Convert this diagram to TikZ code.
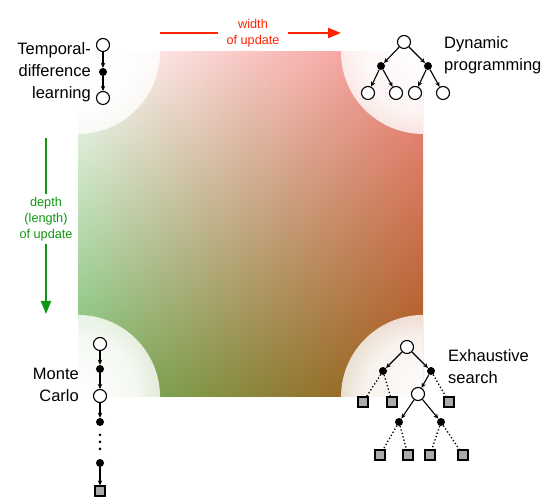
\documentclass[tikz,border=0pt]{standalone}
\usepackage{fontspec}
\setmainfont{Liberation Sans}
\usetikzlibrary{arrows.meta,fadings,shadings}

\definecolor{widthred}{RGB}{255,34,0}
\definecolor{depthgreen}{RGB}{16,150,16}
\definecolor{cornerTR}{RGB}{244,140,136}
\definecolor{cornerBL}{RGB}{112,184,98}
\definecolor{cornerBR}{RGB}{164,84,20}
\definecolor{termgray}{RGB}{170,170,170}

\pgfdeclareradialshading{cornershade}{\pgfpointorigin}{color(0bp)=(white); color(18bp)=(white!92!black); color(50bp)=(white!30!black)}
\pgfdeclarefading{cornerfade}{\pgfuseshading{cornershade}}

\tikzset{
  stnode/.style={circle, draw, fill=white, line width=1.1pt, minimum size=13pt, inner sep=0pt},
  actnode/.style={circle, fill=black, minimum size=8pt, inner sep=0pt},
  termnode/.style={rectangle, draw, fill=termgray, line width=1.1pt, minimum size=10pt, inner sep=0pt},
  dotnode/.style={circle, fill=black, minimum size=3pt, inner sep=0pt},
  backup/.style={-{Stealth[length=5pt,width=4.5pt]}, line width=1.1pt},
  sample/.style={line width=1.3pt, dash pattern=on 1.3pt off 2.2pt},
  lbl/.style={inner sep=0pt, font=\fontsize{16.5}{22}\selectfont},
  axislbl/.style={inner xsep=8pt, inner ysep=3pt, align=center, font=\fontsize{12.7}{16}\selectfont},
}

\begin{document}
\begin{tikzpicture}[x=1pt,y=1pt]
\useasboundingbox (0,0) rectangle (551,502);

% background square
\shade[upper left=white, upper right=cornerTR, lower left=cornerBL, lower right=cornerBR] (78,105) rectangle (423,450);
\begin{scope}
  \clip (78,105) rectangle (423,450);
  \foreach \cx/\cy in {78/450, 423/450, 78/105, 423/105}
    \fill[white, path fading=cornerfade] (\cx,\cy) circle (82);
\end{scope}

% axes
\node[axislbl, text=widthred] (widthlbl) at (253,469) {width\\of update};
\coordinate (wstart) at (160,469);
\coordinate (wend) at (341,469);
\draw[widthred, line width=2pt] (wstart) -- (widthlbl);
\draw[widthred, line width=2pt, -{Triangle[length=13pt,width=10pt]}] (widthlbl) -- (wend);

\node[axislbl, text=depthgreen] (depthlbl) at (46,283) {depth\\(length)\\of update};
\coordinate (dstart) at (46,364);
\coordinate (dend) at (46,188);
\draw[depthgreen, line width=2pt] (dstart) -- (depthlbl);
\draw[depthgreen, line width=2pt, -{Triangle[length=13pt,width=10pt]}] (depthlbl) -- (dend);

% temporal-difference
\node[stnode] (tds1) at (103,457) {};
\node[actnode] (tda1) at (103,430) {};
\node[stnode] (tds2) at (103,404) {};
\draw[backup] (tds1) -- (tda1);
\draw[backup] (tda1) -- (tds2);
\node[lbl, anchor=east, align=right] (tdlbl) at (91,430) {Temporal-\\difference\\learning};

% dynamic programming
\node[stnode] (dproot) at (404,460) {};
\node[actnode] (dpa1) at (381,436) {};
\node[actnode] (dpa2) at (428,436) {};
\node[stnode] (dps1) at (368,409) {};
\node[stnode] (dps2) at (396,409) {};
\node[stnode] (dps3) at (415,409) {};
\node[stnode] (dps4) at (443,409) {};
\draw[backup] (dproot) -- (dpa1);
\draw[backup] (dproot) -- (dpa2);
\draw[backup] (dpa1) -- (dps1);
\draw[backup] (dpa1) -- (dps2);
\draw[backup] (dpa2) -- (dps3);
\draw[backup] (dpa2) -- (dps4);
\node[lbl, anchor=west, align=left] (dplbl) at (444,447) {Dynamic\\programming};

% monte carlo
\node[stnode] (mcs1) at (100,158) {};
\node[actnode] (mca1) at (100,133) {};
\node[stnode] (mcs2) at (100,106) {};
\node[actnode] (mca2) at (100,80) {};
\foreach \i/\y in {1/67, 2/60, 3/53}
  \node[dotnode] (mcdot\i) at (100,\y) {};
\node[actnode] (mca3) at (100,39) {};
\node[termnode] (mct1) at (100,11) {};
\draw[backup] (mcs1) -- (mca1);
\draw[backup] (mca1) -- (mcs2);
\draw[backup] (mcs2) -- (mca2);
\draw[backup] (mca3) -- (mct1);
\node[lbl, anchor=east, align=right] (mclbl) at (79,117) {Monte\\Carlo};

% exhaustive search
\node[stnode] (esroot) at (407,155) {};
\node[actnode] (esa1) at (383,131) {};
\node[actnode] (esa2) at (431,131) {};
\node[termnode] (est1) at (363,100) {};
\node[termnode] (est2) at (392,100) {};
\node[stnode] (ess) at (418,108) {};
\node[termnode] (est3) at (449,100) {};
\node[actnode] (esa3) at (399,80) {};
\node[actnode] (esa4) at (441,80) {};
\node[termnode] (est4) at (380,47) {};
\node[termnode] (est5) at (408,47) {};
\node[termnode] (est6) at (430,47) {};
\node[termnode] (est7) at (463,47) {};
\draw[backup] (esroot) -- (esa1);
\draw[backup] (esroot) -- (esa2);
\draw[backup] (esa2) -- (ess);
\draw[backup] (ess) -- (esa3);
\draw[backup] (ess) -- (esa4);
\draw[sample] (esa1) -- (est1);
\draw[sample] (esa1) -- (est2);
\draw[sample] (esa2) -- (est3);
\draw[sample] (esa3) -- (est4);
\draw[sample] (esa3) -- (est5);
\draw[sample] (esa4) -- (est6);
\draw[sample] (esa4) -- (est7);
\node[lbl, anchor=west, align=left] (eslbl) at (448,135) {Exhaustive\\search};
\end{tikzpicture}
\end{document}
